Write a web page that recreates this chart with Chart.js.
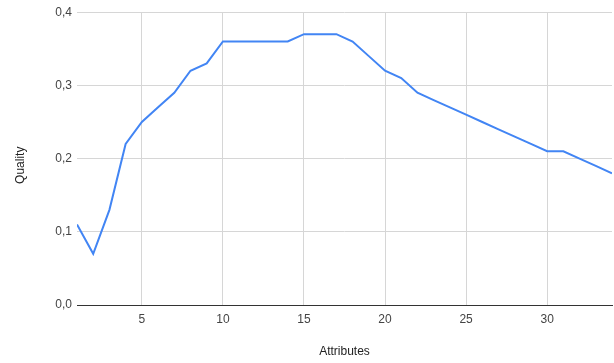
<!DOCTYPE html>
<html>
<head>
<meta charset="utf-8">
<script src="https://cdn.jsdelivr.net/npm/chart.js@4/dist/chart.umd.min.js"></script>
<style>
  html, body { margin: 0; padding: 0; background: #fff; }
  #wrap { width: 614px; height: 363px; position: relative; }
</style>
</head>
<body>
<div id="wrap"><canvas id="c" width="614" height="363"></canvas></div>
<script>
// Number of attributes used and the resulting quality score
const attributes = [1,2,3,4,5,6,7,8,9,10,11,12,13,14,15,16,17,18,19,20,21,22,23,24,25,26,27,28,29,30,31,32,33,34];
const quality = [0.11,0.07,0.13,0.22,0.25,0.27,0.29,0.32,0.33,0.36,0.36,0.36,0.36,0.36,0.37,0.37,0.37,0.36,0.34,0.32,0.31,0.29,0.28,0.27,0.26,0.25,0.24,0.23,0.22,0.21,0.21,0.20,0.19,0.18];
const xTicks = [5,10,15,20,25,30];
const yTicks = [0,0.1,0.2,0.3,0.4];

const points = attributes.map((a, i) => ({ x: a, y: quality[i] }));
const textFont = { family: 'Arial, "Liberation Sans", sans-serif', size: 12 };

new Chart(document.getElementById('c'), {
  type: 'line',
  data: {
    datasets: [{
      data: points,
      borderColor: '#4285F4',
      borderWidth: 2,
      pointRadius: 0,
      tension: 0,
      fill: false
    }]
  },
  options: {
    responsive: false,
    animation: false,
    layout: { padding: { top: 12, right: 2, left: 0, bottom: 0 } },
    plugins: { legend: { display: false }, tooltip: { enabled: false } },
    scales: {
      x: {
        type: 'linear',
        min: 1,
        max: 34,
        afterBuildTicks: s => { s.ticks = xTicks.map(v => ({ value: v })); },
        afterFit: s => { s.height = 58; },
        grid: { color: '#d6d6d6', drawTicks: false },
        border: { display: true, color: '#333', width: 1 },
        ticks: { color: '#444', font: textFont, padding: 7, maxRotation: 0 },
        title: { display: true, text: 'Attributes', color: '#222', font: textFont, padding: { top: 0, bottom: 4 } }
      },
      y: {
        min: 0,
        max: 0.4,
        afterBuildTicks: s => { s.ticks = yTicks.map(v => ({ value: v })); },
        afterFit: s => { s.width = 77; },
        grid: { color: '#d6d6d6', drawTicks: false },
        border: { display: false },
        ticks: {
          color: '#444', font: textFont, padding: 5,
          callback: v => v.toFixed(1).replace('.', ',')
        },
        title: { display: true, text: 'Quality    ', color: '#222', font: textFont, padding: { top: 13, bottom: 0 } }
      }
    }
  }
});
</script>
</body>
</html>
